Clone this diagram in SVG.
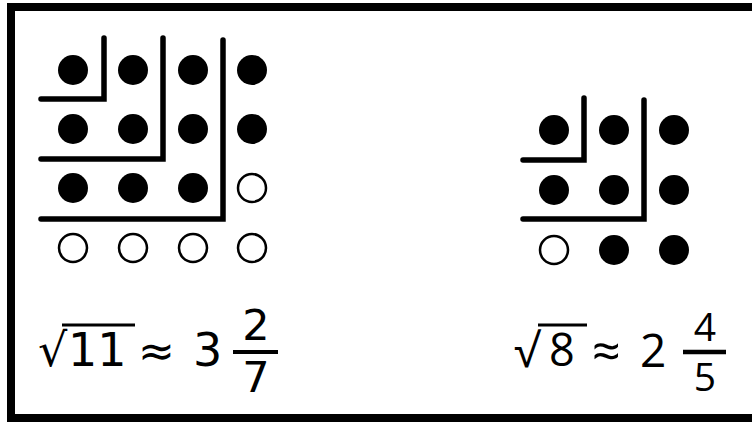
<svg xmlns="http://www.w3.org/2000/svg" width="752" height="422" viewBox="0 0 752 422">
<style>
.f{fill:#000}
.o{fill:#fff;stroke:#000;stroke-width:2.5}
.l{fill:none;stroke:#000;stroke-width:5.5;stroke-linecap:round;stroke-linejoin:miter}
.tl{font-family:"DejaVu Sans",Verdana,sans-serif;fill:#000}
.tr{font-family:"Open Sans","Noto Sans",sans-serif;fill:#000}
</style>
<rect x="0" y="0" width="752" height="422" fill="#fff"/>
<rect x="11" y="7" width="760" height="411" fill="none" stroke="#000" stroke-width="8"/>
<g id="left-grid">
<circle class="f" cx="73" cy="70" r="15"/><circle class="f" cx="133" cy="70" r="15"/><circle class="f" cx="193" cy="70" r="15"/><circle class="f" cx="252" cy="70" r="15"/>
<circle class="f" cx="73" cy="129" r="15"/><circle class="f" cx="133" cy="129" r="15"/><circle class="f" cx="193" cy="129" r="15"/><circle class="f" cx="252" cy="129" r="15"/>
<circle class="f" cx="73" cy="188" r="15"/><circle class="f" cx="133" cy="188" r="15"/><circle class="f" cx="193" cy="188" r="15"/><circle class="o" cx="252" cy="188" r="14"/>
<circle class="o" cx="73" cy="248" r="14"/><circle class="o" cx="133" cy="248" r="14"/><circle class="o" cx="193" cy="248" r="14"/><circle class="o" cx="252" cy="248" r="14"/>
</g>
<g id="left-lines">
<polyline class="l" points="41,99 104,99 104,38"/>
<polyline class="l" points="41,159 163,159 163,38"/>
<polyline class="l" points="41,219 223,219 223,40"/>
</g>
<g id="right-grid">
<circle class="f" cx="554" cy="130" r="15"/><circle class="f" cx="614" cy="130" r="15"/><circle class="f" cx="674" cy="130" r="15"/>
<circle class="f" cx="554" cy="190" r="15"/><circle class="f" cx="614" cy="190" r="15"/><circle class="f" cx="674" cy="190" r="15"/>
<circle class="o" cx="554" cy="250" r="14"/><circle class="f" cx="614" cy="250" r="15"/><circle class="f" cx="674" cy="250" r="15"/>
</g>
<g id="right-lines">
<polyline class="l" points="523,160 584,160 584,98"/>
<polyline class="l" points="523,219 644,219 644,100"/>
</g>
<g id="left-formula">
<text class="tl" x="38" y="366" font-size="46">√</text>
<line x1="62" y1="325" x2="135" y2="325" stroke="#000" stroke-width="3"/>
<text class="tl" x="68" y="366" font-size="46">11</text>
<text class="tl" x="138" y="366" font-size="44">≈</text>
<text class="tl" x="193" y="366" font-size="46">3</text>
<line x1="233" y1="352" x2="278" y2="352" stroke="#000" stroke-width="4"/>
<text class="tl" x="256" y="340" font-size="43" text-anchor="middle">2</text>
<text class="tl" x="256" y="392" font-size="43" text-anchor="middle">7</text>
</g>
<g id="right-formula">
<text class="tr" x="514" y="367" font-size="46">√</text>
<line x1="538" y1="325" x2="587" y2="325" stroke="#000" stroke-width="3"/>
<text class="tr" x="549" y="366" font-size="45">8</text>
<text class="tr" x="592" y="369" font-size="50">≈</text>
<text class="tr" x="640" y="367" font-size="46">2</text>
<line x1="683" y1="352" x2="726" y2="352" stroke="#000" stroke-width="4.5"/>
<text class="tr" x="705" y="341" font-size="39" text-anchor="middle">4</text>
<text class="tr" x="705" y="391" font-size="39" text-anchor="middle">5</text>
</g>
</svg>
